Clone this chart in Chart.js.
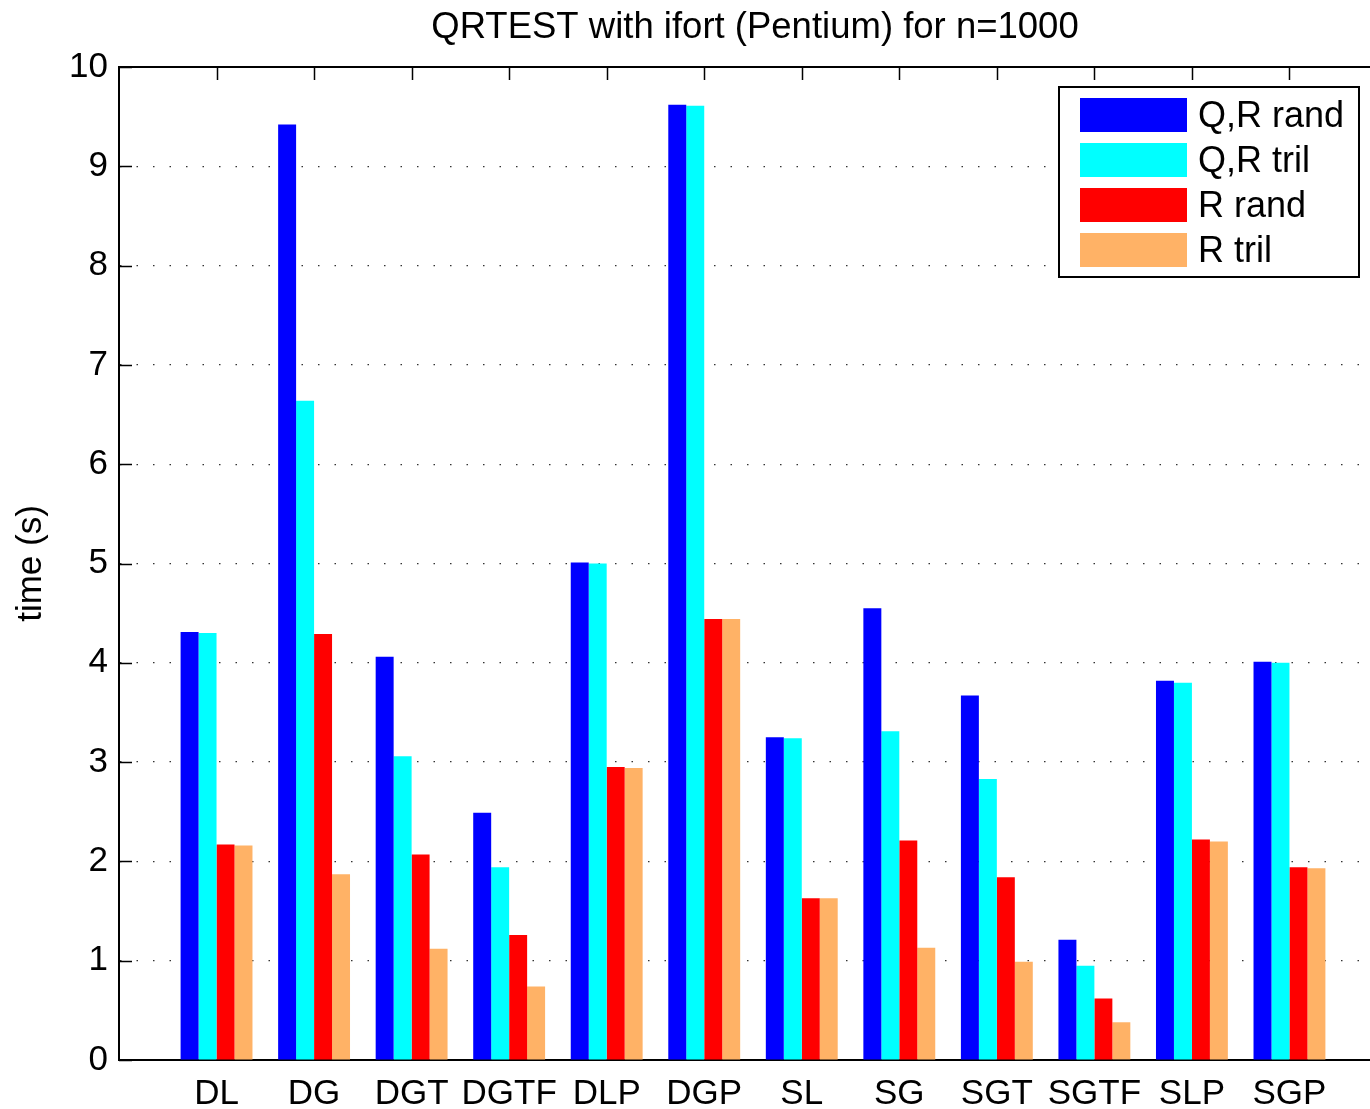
<!DOCTYPE html>
<html>
<head>
<meta charset="utf-8">
<title>QRTEST with ifort (Pentium) for n=1000</title>
<script src="https://cdn.jsdelivr.net/npm/chart.js@4.4.1/dist/chart.umd.min.js"></script>
<style>
    html, body { margin: 0; padding: 0; background: #fff; overflow: hidden; }
    #wrap { width: 1400px; height: 1109px; }
</style>
</head>
<body>
<div id="wrap"><canvas id="qrChart" width="1400" height="1109"></canvas></div>
<script>
// Data
const categories = ['DL', 'DG', 'DGT', 'DGTF', 'DLP', 'DGP', 'SL', 'SG', 'SGT', 'SGTF', 'SLP', 'SGP'];
const seriesNames = ['Q,R rand', 'Q,R tril', 'R rand', 'R tril'];
const qrRand = [4.31, 9.42, 4.06, 2.49, 5.01, 9.62, 3.25, 4.55, 3.67, 1.21, 3.82, 4.01];
const qrTril = [4.30, 6.64, 3.06, 1.94, 5.00, 9.61, 3.24, 3.31, 2.83, 0.95, 3.80, 4.00];
const rRand = [2.17, 4.29, 2.07, 1.26, 2.95, 4.44, 1.63, 2.21, 1.84, 0.62, 2.22, 1.94];
const rTril = [2.16, 1.87, 1.12, 0.74, 2.94, 4.44, 1.63, 1.13, 0.99, 0.38, 2.20, 1.93];
const yTicks = [0, 1, 2, 3, 4, 5, 6, 7, 8, 9, 10];

const FONT = "'Liberation Sans', Arial, Helvetica, sans-serif";
const colors = ['#0000ff', '#00ffff', '#ff0000', '#ffb266'];

// MATLAB leaves one empty slot either side of the bar groups
const labels = ['', ...categories, ''];
const pad = (arr) => [null, ...arr, null];

// Title, box, inward ticks and the legend are drawn by hand (matlab look)
const matlabAxes = {
    id: 'matlabAxes',
    afterDatasetsDraw(chart) {
        const { ctx, chartArea: a, scales } = chart;
        ctx.save();
        ctx.strokeStyle = '#000';
        ctx.lineWidth = 2;

        // top + right border
        ctx.beginPath();
        ctx.moveTo(a.left, a.top);
        ctx.lineTo(a.right, a.top);
        ctx.lineTo(a.right, a.bottom);
        ctx.stroke();

        // y ticks pointing inward
        ctx.lineWidth = 1.5;
        ctx.beginPath();
        yTicks.forEach(v => {
            const y = Math.round(scales.y.getPixelForValue(v)) + 0.5;
            ctx.moveTo(a.left, y);
            ctx.lineTo(a.left + 13, y);
            ctx.moveTo(a.right, y);
            ctx.lineTo(a.right - 13, y);
        });
        // x ticks on the top edge
        categories.forEach((c, i) => {
            const x = Math.round(scales.x.getPixelForValue(i + 1)) + 0.5;
            ctx.moveTo(x, a.top);
            ctx.lineTo(x, a.top + 13);
        });
        ctx.stroke();

        // title
        ctx.fillStyle = '#000';
        ctx.font = '36.5px ' + FONT;
        ctx.textAlign = 'center';
        ctx.textBaseline = 'alphabetic';
        ctx.fillText('QRTEST with ifort (Pentium) for n=1000', (a.left + a.right) / 2 + 2, 38);

        // legend box in the upper right corner
        const bx = a.right - 328, by = a.top + 20, bw = 300, bh = 190;
        ctx.fillStyle = '#fff';
        ctx.fillRect(bx, by, bw, bh);
        ctx.lineWidth = 2;
        ctx.strokeRect(bx, by, bw, bh);
        ctx.font = '36px ' + FONT;
        ctx.textAlign = 'left';
        ctx.textBaseline = 'middle';
        chart.data.datasets.forEach((ds, i) => {
            const sy = by + 11 + i * 45;
            ctx.fillStyle = ds.backgroundColor;
            ctx.fillRect(bx + 21, sy, 107, 34);
            ctx.fillStyle = '#000';
            ctx.fillText(ds.label, bx + 139, sy + 19);
        });
        ctx.restore();
    }
};

document.addEventListener('DOMContentLoaded', () => {
    const ctx = document.getElementById('qrChart').getContext('2d');
    const allSeries = [qrRand, qrTril, rRand, rTril];

    new Chart(ctx, {
        type: 'bar',
        data: {
            labels: labels,
            datasets: allSeries.map((s, i) => ({
                label: seriesNames[i],
                data: pad(s),
                backgroundColor: colors[i],
                borderWidth: 0,
                categoryPercentage: 0.737,
                barPercentage: 1.0
            }))
        },
        options: {
            responsive: false,
            animation: false,
            devicePixelRatio: 1,
            layout: { padding: { top: 67, right: 10, left: 0, bottom: 0 } },
            scales: {
                x: {
                    offset: false,
                    grid: { display: false, drawTicks: false },
                    border: { display: true, color: '#000', width: 2 },
                    ticks: {
                        color: '#000',
                        padding: 13,
                        autoSkip: false,
                        maxRotation: 0,
                        font: { family: FONT, size: 35 }
                    },
                    afterFit: (s) => { s.height = 49; }
                },
                y: {
                    min: 0,
                    max: 10,
                    grid: { color: '#333', lineWidth: 1.2, drawTicks: false },
                    border: { display: true, color: '#000', width: 2, dash: [1.5, 15] },
                    ticks: {
                        stepSize: 1,
                        color: '#000',
                        padding: 11,
                        font: { family: FONT, size: 35 }
                    },
                    title: {
                        display: true,
                        text: 'time (s)',
                        color: '#000',
                        padding: { top: 10, bottom: 0 },
                        font: { family: FONT, size: 35 }
                    },
                    afterFit: (s) => { s.width = 119; }
                }
            },
            plugins: {
                legend: { display: false },
                title: { display: false },
                tooltip: { enabled: false }
            }
        },
        plugins: [matlabAxes]
    });
});
</script>
</body>
</html>
